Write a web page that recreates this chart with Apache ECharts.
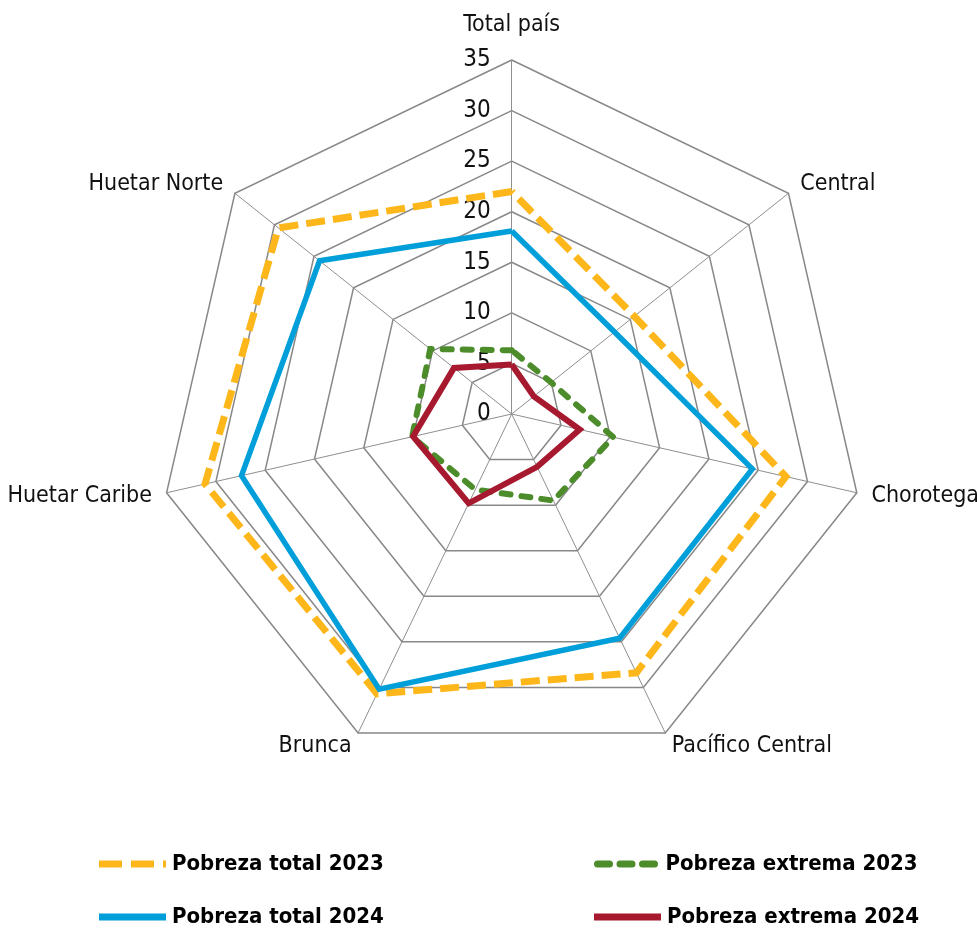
<!DOCTYPE html>
<html>
<head>
<meta charset="utf-8">
<script src="https://cdn.jsdelivr.net/npm/echarts@6/dist/echarts.min.js"></script>
<style>
  html, body {margin: 0; padding: 0; background: #fff;}
  #chart {width: 977px; height: 933px;}
</style>
</head>
<body>
<div id="chart"></div>
<script>
// regiones en el orden de las agujas del reloj, desde arriba
const regiones = ['Total país', 'Central', 'Chorotega', 'Pacífico Central', 'Brunca', 'Huetar Caribe', 'Huetar Norte'];
const pobrezaTotal2023 = [22.0, 15.5, 27.8, 28.4, 30.7, 31.1, 29.5];
const pobrezaTotal2024 = [18.1, 13.0, 24.4, 24.6, 30.2, 27.4, 24.3];
const pobrezaExtrema2023 = [6.3, 5.0, 10.3, 9.5, 8.3, 10.1, 10.3];
const pobrezaExtrema2024 = [4.9, 2.8, 6.9, 5.8, 9.8, 10.0, 7.3];
const escala = [0, 5, 10, 15, 20, 25, 30, 35];

const FONT = "'DejaVu Sans Condensed', sans-serif";
const CX = 511.7, CY = 414, R = 354;

// echarts dibuja el radar en sentido antihorario -> invertir el orden
const orden = [0, 6, 5, 4, 3, 2, 1];
const reordenar = (arr) => orden.map(i => arr[i]);

const series_cfg = [
  {name: 'Pobreza total 2023', data: pobrezaTotal2023, color: '#FDB71A', width: 7, type: [19, 8], cap: 'butt'},
  {name: 'Pobreza total 2024', data: pobrezaTotal2024, color: '#009FDA', width: 5.5, type: 'solid', cap: 'butt'},
  {name: 'Pobreza extrema 2023', data: pobrezaExtrema2023, color: '#4C8C2B', width: 6, type: [9, 11], cap: 'round'},
  {name: 'Pobreza extrema 2024', data: pobrezaExtrema2024, color: '#A6192E', width: 6, type: 'solid', cap: 'butt'},
];

// iconos de leyenda (forma del trazo)
const iconos = [
  'path://M0,0h23v7h-23z M32,0h23v7h-23z M64,0h3v7h-3z',
  'path://M0,0h67v7h-67z',
  'path://M3.5,0h12a3.5,3.5 0 0 1 0,7h-12a3.5,3.5 0 0 1 0,-7z M26,0h12a3.5,3.5 0 0 1 0,7h-12a3.5,3.5 0 0 1 0,-7z M48.5,0h12a3.5,3.5 0 0 1 0,7h-12a3.5,3.5 0 0 1 0,-7z',
  'path://M0,0h67v7h-67z',
];
const legendPos = [[94, 848], [94, 901], [589, 848], [589, 901]];

const chart = echarts.init(document.getElementById('chart'));

const option = {
  backgroundColor: '#fff',
  animation: false,
  radar: {
    center: [CX, CY],
    radius: R,
    startAngle: 90,
    splitNumber: 7,
    shape: 'polygon',
    indicator: reordenar(regiones).map(n => ({name: n, min: 0, max: 35})),
    axisName: {
      color: '#111',
      fontFamily: FONT,
      fontSize: 23,
      formatter: (name) => name === 'Total país' ? '{t|' + name + '}' : name,
      rich: {t: {fontFamily: FONT, fontSize: 23, color: '#111', padding: [0, 0, 8, 0]}},
    },
    nameGap: 15,
    axisLine: {lineStyle: {color: '#8f8f8f', width: 1}},
    splitLine: {lineStyle: {color: '#888', width: 1.5}},
    splitArea: {show: false},
  },
  // eje auxiliar para las etiquetas 0-35 sobre el eje de Total país
  grid: {left: CX, top: CY - R, height: R, width: 10},
  xAxis: {type: 'value', show: false},
  yAxis: {
    type: 'value',
    min: escala[0],
    max: escala[escala.length - 1],
    interval: escala[1] - escala[0],
    axisLine: {show: false},
    axisTick: {show: false},
    splitLine: {show: false},
    axisLabel: {margin: 21, color: '#111', fontFamily: FONT, fontSize: 24},
  },
  legend: series_cfg.map((s, i) => ({
    data: [{name: s.name, icon: iconos[i]}],
    left: legendPos[i][0],
    top: legendPos[i][1],
    itemWidth: 69,
    itemHeight: 7,
    selectedMode: false,
    textStyle: {fontFamily: FONT, fontSize: 22, fontWeight: 'bold', color: '#000'},
  })),
  series: series_cfg.map(s => ({
    name: s.name,
    type: 'radar',
    symbol: 'none',
    silent: true,
    itemStyle: {color: s.color},
    lineStyle: {color: s.color, width: s.width, type: s.type, cap: s.cap, join: 'miter'},
    data: [{name: s.name, value: reordenar(s.data)}],
  })),
};

chart.setOption(option);
</script>
</body>
</html>
